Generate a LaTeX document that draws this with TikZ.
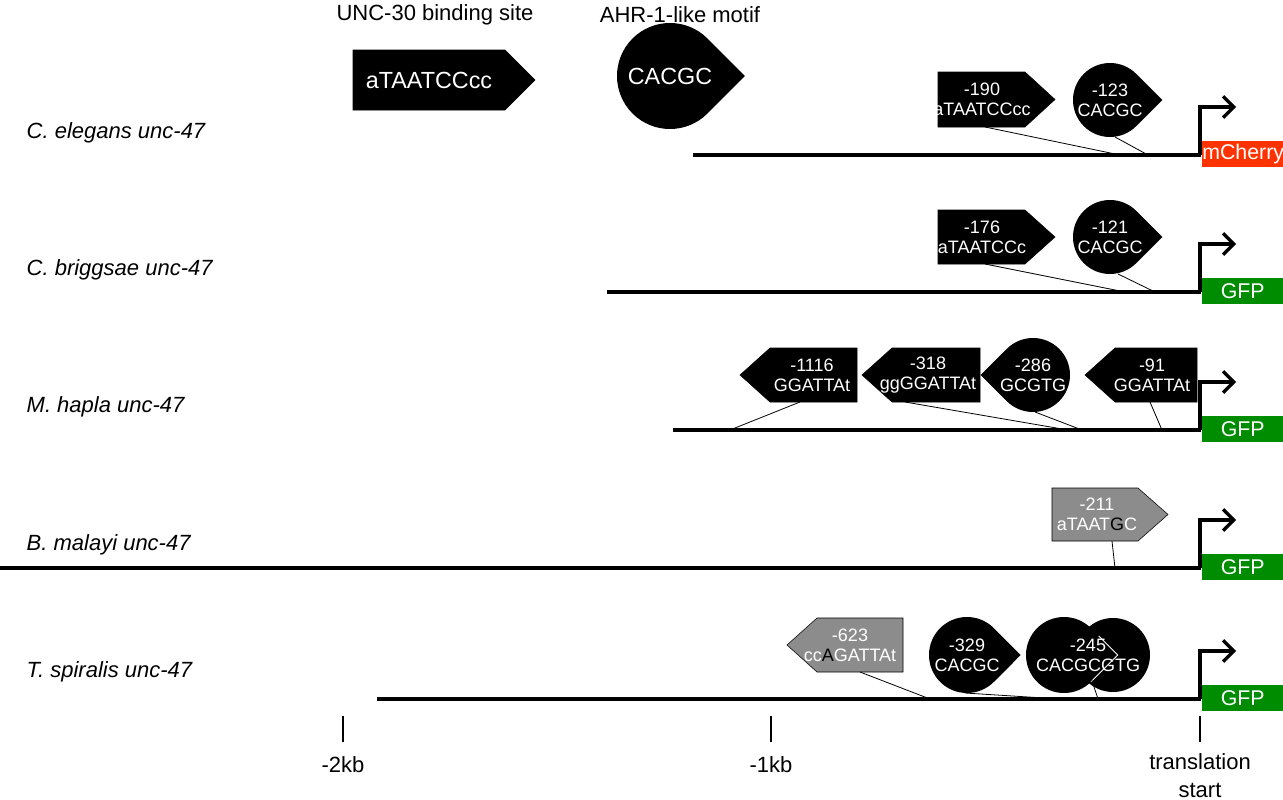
\documentclass[tikz,border=0pt]{standalone}
\usepackage{fontspec}
\setmainfont{Liberation Sans}
\usetikzlibrary{arrows.meta, positioning, calc}
\definecolor{cherry}{RGB}{255,51,0}
\definecolor{gfpgreen}{RGB}{0,140,0}
\definecolor{motifgray}{RGB}{140,140,140}
% pentagon: x0,y0,x1,y1,tip start,fill
\newcommand{\penR}[6]{\filldraw[draw=black, fill=#6] (#1,#2) -- (#5,#2) -- (#3,{(#2+#4)/2}) -- (#5,#4) -- (#1,#4) -- cycle;}
\newcommand{\penL}[6]{\filldraw[draw=black, fill=#6] (#3,#2) -- (#5,#2) -- (#1,{(#2+#4)/2}) -- (#5,#4) -- (#3,#4) -- cycle;}
% teardrop: cx, cy, r
\newcommand{\dropR}[3]{\fill (#1,#2) ++(45:#3) arc[start angle=45, end angle=315, radius=#3] -- ({#1+1.414*#3},#2) -- cycle;}
\newcommand{\dropL}[3]{\fill (#1,#2) ++(135:#3) arc[start angle=135, end angle=-135, radius=#3] -- ({#1-1.414*#3},#2) -- cycle;}
\tikzset{
  species/.style={font=\fontsize{16.5}{18}\selectfont\itshape, anchor=west},
  motif/.style={font=\fontsize{13.5}{15}\selectfont, text=white, align=center},
  promoter/.style={line width=2.5pt},
  link/.style={line width=0.6pt},
  tss/.style={line width=2.5pt, -{Straight Barb[length=8pt, width=16pt]}},
  reporter/.style={font=\fontsize{16}{18}\selectfont, text=white, minimum width=60.75pt, minimum height=19pt, inner sep=0pt, anchor=west},
  axislabel/.style={font=\fontsize{16.5}{18}\selectfont, align=center}
}
\begin{document}
\begin{tikzpicture}[x=0.75pt, y=-0.75pt]
    \useasboundingbox (0,0) rectangle (1283,800);

    % Legende
    \node[font=\fontsize{16.5}{18}\selectfont] (unctitle) at (435,15) {UNC-30 binding site};
    \node[font=\fontsize{16.5}{18}\selectfont] (ahrtitle) at (680,15) {AHR-1-like motif};
    \penR{353}{50}{535}{110}{505}{black}
    \node[motif, font=\fontsize{17.5}{19}\selectfont] (uncbig) at (429,80) {aTAATCCcc};
    \dropR{670}{76}{53}
    \node[motif, font=\fontsize{17.5}{19}\selectfont] (ahrbig) at (670,76) {CACGC};

    % === C. elegans ===
    \node[species] (cel) at (22,133) {C. elegans unc-47};
    \draw[promoter] (693,155) -- (1201,155);
    \penR{938}{72}{1055}{127}{1025}{black}
    \node[motif] (cel190) at (982,99) {-190\\aTAATCCcc};
    \dropR{1110}{100}{37}
    \node[motif] (cel123) at (1110,100) {-123\\CACGC};
    \coordinate (celA) at (1120,155); \coordinate (celB) at (1148,155);
    \draw[link] (985,127) -- (celA);
    \draw[link] (1115,137) -- (celB);
    \draw[tss] (1200,155) -- (1200,107) -- (1236,107);
    \node[reporter, fill=cherry] (mcherry) at (1202,154) {mCherry};

    % === C. briggsae ===
    \node[species] (cbr) at (22,270) {C. briggsae unc-47};
    \draw[promoter] (607,292) -- (1201,292);
    \penR{938}{210}{1055}{264}{1025}{black}
    \node[motif] (cbr176) at (982,237) {-176\\aTAATCCc};
    \dropR{1110}{237}{37}
    \node[motif] (cbr121) at (1110,237) {-121\\CACGC};
    \coordinate (cbrA) at (1125,292); \coordinate (cbrB) at (1155,292);
    \draw[link] (985,264) -- (cbrA);
    \draw[link] (1118,274) -- (cbrB);
    \draw[tss] (1200,292) -- (1200,244) -- (1236,244);
    \node[reporter, fill=gfpgreen] (gfpcbr) at (1202,291) {GFP};

    % === M. hapla ===
    \node[species] (mha) at (22,407) {M. hapla unc-47};
    \draw[promoter] (673,430) -- (1201,430);
    \penL{740}{348}{857}{402}{770}{black}
    \node[motif] (mha1116) at (812,375) {-1116\\GGATTAt};
    \penL{862}{348}{980}{402}{892}{black}
    \node[motif] (mha318) at (928,375) {-318\\ggGGATTAt};
    \dropL{1033}{375}{37}
    \node[motif] (mha286) at (1033,375) {-286\\GCGTG};
    \penL{1085}{348}{1197}{402}{1115}{black}
    \node[motif] (mha91) at (1152,375) {-91\\GGATTAt};
    \coordinate (mhaA) at (730,430); \coordinate (mhaB) at (1068,430);
    \coordinate (mhaC) at (1082,430); \coordinate (mhaD) at (1162,430);
    \draw[link] (800,402) -- (mhaA);
    \draw[link] (905,402) -- (mhaB);
    \draw[link] (1035,412) -- (mhaC);
    \draw[link] (1150,402) -- (mhaD);
    \draw[tss] (1200,430) -- (1200,382) -- (1236,382);
    \node[reporter, fill=gfpgreen] (gfpmha) at (1202,429) {GFP};

    % === B. malayi ===
    \node[species] (bma) at (22,545) {B. malayi unc-47};
    \draw[promoter] (0,568) -- (1201,568);
    \penR{1052}{488}{1168}{541}{1138}{motifgray}
    \node[motif] (bma211) at (1097,514) {-211\\aTAAT\textcolor{black}{G}C};
    \coordinate (bmaA) at (1115,568);
    \draw[link] (1112,541) -- (bmaA);
    \draw[tss] (1200,568) -- (1200,520) -- (1236,520);
    \node[reporter, fill=gfpgreen] (gfpbma) at (1202,567) {GFP};

    % === T. spiralis ===
    \node[species] (tsp) at (22,672) {T. spiralis unc-47};
    \draw[promoter] (377,699) -- (1201,699);
    \penL{787}{618}{903}{672}{817}{motifgray}
    \node[motif] (tsp623) at (850,645) {-623\\cc\textcolor{black}{A}GATTAt};
    \dropR{967}{655}{38}
    \node[motif] (tsp329) at (967,655) {-329\\CACGC};
    \fill (1113,655) circle[radius=37];
    \dropR{1064}{655}{38}
    \draw[white, line width=0.6pt] (1064,655) ++(45:38) -- ({1064+1.414*38},655) -- ++(-135:27);
    \node[motif] (tsp245) at (1088,655) {-245\\CACGCGTG};
    \coordinate (tspA) at (930,699); \coordinate (tspB) at (1060,699);
    \coordinate (tspC) at (1098,699);
    \draw[link] (860,672) -- (tspA);
    \draw[link] (965,693) -- (tspB);
    \draw[link] (1090,675) -- (tspC);
    \draw[tss] (1200,699) -- (1200,651) -- (1236,651);
    \node[reporter, fill=gfpgreen] (gfptsp) at (1202,698) {GFP};

    % Axe
    \draw[line width=0.8pt] (343,716) -- (343,742);
    \draw[line width=0.8pt] (771,716) -- (771,742);
    \draw[line width=0.8pt] (1200,716) -- (1200,742);
    \node[axislabel] (kb2) at (343,765) {-2kb};
    \node[axislabel] (kb1) at (771,765) {-1kb};
    \node[axislabel, font=\fontsize{16.5}{21}\selectfont] (start) at (1200,776) {translation\\start};
\end{tikzpicture}
\end{document}
